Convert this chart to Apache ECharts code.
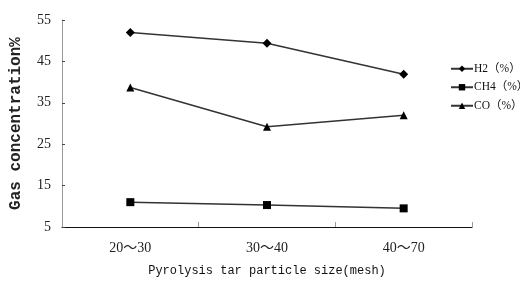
<!DOCTYPE html>
<html lang="en">
<head>
    <meta charset="UTF-8">
    <title>Gas concentration</title>
    <script src="https://cdn.jsdelivr.net/npm/echarts@6/dist/echarts.min.js"></script>
    <style>
        html, body {
            margin: 0;
            padding: 0;
            background: #fff;
        }
        #chart {
            width: 520px;
            height: 282px;
        }
    </style>
</head>
<body>
<div id="chart"></div>
<script>
    // data
    var sizes = ['20～30', '30～40', '40～70'];
    var h2 = [52.0, 49.4, 41.9];
    var ch4 = [11.0, 10.3, 9.5];
    var co = [38.7, 29.2, 32.0];
    var seriesNames = ['H2（%）', 'CH4（%）', 'CO（%）'];
    var yMin = 5, yMax = 55, yStep = 10;

    var serifFont = '"Liberation Serif", "Noto Sans CJK SC", serif';
    var monoFont = '"Liberation Mono", "DejaVu Sans Mono", monospace';

    function lineSeries(name, values, symbol, size) {
        return {
            name: name,
            type: 'line',
            data: values,
            symbol: symbol,
            symbolSize: size,
            silent: true,
            animation: false,
            lineStyle: {color: '#333', width: 1.5},
            itemStyle: {color: '#000', borderWidth: 0}
        };
    }

    var myChart = echarts.init(document.getElementById('chart'));
    myChart.setOption({
        backgroundColor: '#fff',
        animation: false,
        grid: {left: 61, right: 48, top: 20, bottom: 52},
        legend: {
            orient: 'vertical',
            left: 445,
            top: 58,
            itemWidth: 22,
            itemHeight: 8,
            itemGap: 7,
            data: seriesNames,
            textStyle: {fontFamily: serifFont, fontSize: 11.5, color: '#111', padding: [0, 0, 0, -4]}
        },
        xAxis: {
            type: 'category',
            data: sizes,
            boundaryGap: true,
            name: 'Pyrolysis tar particle size(mesh)',
            nameLocation: 'middle',
            nameGap: 38,
            nameTextStyle: {fontFamily: monoFont, fontSize: 12, color: '#111'},
            axisLine: {lineStyle: {color: '#111', width: 1}},
            axisTick: {show: true, inside: true, length: 5, lineStyle: {color: '#999'}},
            axisLabel: {fontFamily: serifFont, fontSize: 14, color: '#222', margin: 14}
        },
        yAxis: {
            type: 'value',
            min: yMin,
            max: yMax,
            interval: yStep,
            name: 'Gas concentration%',
            nameLocation: 'middle',
            nameGap: 38,
            nameTextStyle: {fontFamily: monoFont, fontSize: 16, fontWeight: 'bold', color: '#222'},
            splitLine: {show: false},
            axisLine: {show: true, lineStyle: {color: '#999', width: 1}},
            axisTick: {show: true, inside: true, length: 3, lineStyle: {color: '#444'}},
            axisLabel: {fontFamily: serifFont, fontSize: 14, color: '#222', margin: 11}
        },
        series: [
            lineSeries(seriesNames[0], h2, 'diamond', 9),
            lineSeries(seriesNames[1], ch4, 'rect', 8),
            lineSeries(seriesNames[2], co, 'triangle', 8)
        ]
    });
</script>
</body>
</html>
